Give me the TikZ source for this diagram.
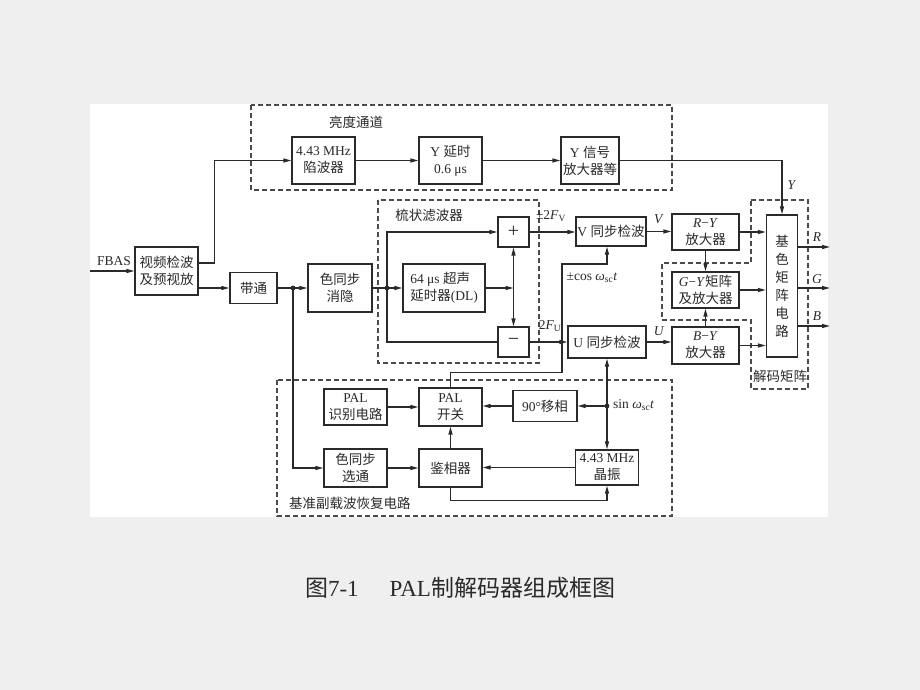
\documentclass[tikz,border=0pt]{standalone}
\usepackage{fontspec}
\setmainfont{Liberation Serif}
\newfontfamily\cjk{Noto Sans CJK SC}
\newcommand{\zh}[1]{{\cjk #1}}
\usetikzlibrary{arrows.meta}
\definecolor{pagegray}{HTML}{EFEFEF}
\definecolor{ink}{HTML}{2A2A2A}
\tikzset{
  blk/.style={draw=ink, line width=1.3pt, text=ink, align=center, inner sep=1pt,
    font=\fontsize{13.5}{17}\selectfont},
  tip/.tip={Triangle[length=8pt,width=4pt]},
  sig/.style={draw=ink, line width=1.3pt, -tip},
  wire/.style={draw=ink, line width=1.3pt},
  grp/.style={draw=ink!85, line width=1.3pt, dash pattern=on 5pt off 3pt},
  lbl/.style={text=ink, font=\fontsize{13.5}{15}\selectfont, inner sep=1pt},
  dot/.style={fill=ink},
}
\begin{document}
\begin{tikzpicture}[x=1pt,y=-1pt]
  \useasboundingbox (0,0) rectangle (920,690);
  \fill[pagegray] (0,0) rectangle (920,690);
  \fill[white] (90,104) rectangle (828,517);

  % dashed groups
  \draw[grp] (251,105) rectangle (672,190);
  \node[lbl] at (356,122) {\zh{亮度通道}};
  \draw[grp] (378,200) rectangle (539,363);
  \node[lbl] at (429,215) {\zh{梳状滤波器}};
  \draw[grp] (277,380) rectangle (672,516);
  \node[lbl, anchor=west] at (288,503) {\zh{基准副载波恢复电路}};
  \draw[grp] (751,200) -- (808,200) -- (808,389) -- (751,389) -- (751,320)
    -- (662,320) -- (662,263) -- (751,263) -- cycle;
  \node[lbl] at (780,376) {\zh{解码矩阵}};

  % blocks
  \node[blk, minimum width=63pt, minimum height=48pt] (video) at (166.5,271) {\zh{视频检波}\\\zh{及预视放}};
  \node[blk, minimum width=63pt, minimum height=47pt] (trap) at (323.5,160.5) {4.43 MHz\\\zh{陷波器}};
  \node[blk, minimum width=63pt, minimum height=47pt] (ydelay) at (450.5,160.5) {Y \zh{延时}\\0.6 μs};
  \node[blk, minimum width=58pt, minimum height=47pt] (yamp) at (590,160.5) {Y \zh{信号}\\\zh{放大器等}};
  \node[blk, minimum width=47pt, minimum height=31pt] (bandpass) at (253.5,288) {\zh{带通}};
  \node[blk, minimum width=64pt, minimum height=48pt] (blank) at (340,288) {\zh{色同步}\\\zh{消隐}};
  \node[blk, minimum width=82pt, minimum height=48pt, align=left] (dl) at (444,288) {64 μs \zh{超声}\\\zh{延时器}(DL)};
  \node[blk, minimum width=31pt, minimum height=30pt, font=\fontsize{20}{20}\selectfont] (plus) at (513.5,232) {+};
  \node[blk, minimum width=31pt, minimum height=30pt, font=\fontsize{20}{20}\selectfont] (minus) at (513.5,342) {−};
  \node[blk, minimum width=70pt, minimum height=29pt] (vdet) at (611,231.5) {V \zh{同步检波}};
  \node[blk, minimum width=78pt, minimum height=32pt] (udet) at (607,342) {U \zh{同步检波}};
  \node[blk, minimum width=67pt, minimum height=36pt] (ry) at (705.5,232) {\textit{R}−\textit{Y}\\\zh{放大器}};
  \node[blk, minimum width=67pt, minimum height=36pt] (gy) at (705.5,290) {\textit{G}−\textit{Y}\zh{矩阵}\\\zh{及放大器}};
  \node[blk, minimum width=67pt, minimum height=37pt] (by) at (705.5,345.5) {\textit{B}−\textit{Y}\\\zh{放大器}};
  \node[blk, minimum width=31pt, minimum height=142pt, font=\fontsize{13.5}{18}\selectfont] (matrix) at (782,286) {\zh{基}\\\zh{色}\\\zh{矩}\\\zh{阵}\\\zh{电}\\\zh{路}};
  \node[blk, minimum width=63pt, minimum height=36pt] (palid) at (355.5,407) {PAL\\\zh{识别电路}};
  \node[blk, minimum width=63pt, minimum height=38pt] (palsw) at (450.5,407) {PAL\\\zh{开关}};
  \node[blk, minimum width=64pt, minimum height=31pt] (shift) at (545,406) {90°\zh{移相}};
  \node[blk, minimum width=63pt, minimum height=38pt] (gate) at (355.5,468) {\zh{色同步}\\\zh{选通}};
  \node[blk, minimum width=63pt, minimum height=38pt] (phdet) at (450.5,468) {\zh{鉴相器}};
  \node[blk, minimum width=63pt, minimum height=35pt] (osc) at (607,467.5) {4.43 MHz\\\zh{晶振}};

  % junctions and free ends
  \coordinate (in) at (90,271);
  \coordinate (j1) at (293,288);
  \coordinate (j2) at (387,288);
  \coordinate (j3) at (udet.south |- shift.east);
  \coordinate (rout) at (830,247);
  \coordinate (gout) at (830,288);
  \coordinate (bout) at (830,326);

  % luminance path
  \draw[sig] (in) -- (video.west);
  \node[lbl] at (114,261) {FBAS};
  \draw[sig] ([yshift=8pt]video.east) -- ++(16,0) |- (trap.west);
  \draw[sig] (trap.east) -- (ydelay.west);
  \draw[sig] (ydelay.east) -- (yamp.west);
  \draw[sig] (yamp.east) -| (matrix.north);
  \node[lbl] at (792,185) {\textit{Y}};

  % chroma path
  \draw[sig] (video.east |- bandpass.west) -- (bandpass.west);
  \draw[wire] (bandpass.east) -- (j1);
  \draw[sig] (j1) -- (blank.west);
  \draw[sig] (j1) |- (gate.west);
  \draw[wire] (blank.east) -- (j2);
  \draw[sig] (j2) -- (dl.west);
  \draw[sig] (j2) |- (plus.west);
  \draw[wire] (j2) |- (minus.west);
  \draw[sig] (dl.east) -- (plus.south |- dl.east);
  \draw[sig, tip-tip] (plus.south) -- (minus.north);
  \fill[dot] (j1) circle (2.4pt);
  \fill[dot] (j2) circle (2.4pt);

  \draw[sig] (plus.east) -- (vdet.west |- plus.east);
  \node[lbl] at (551,216) {±2\textit{F}\textsubscript{V}};
  \draw[sig] (minus.east) -- (udet.west);
  \node[lbl] at (550,326) {2\textit{F}\textsubscript{U}};

  \draw[sig] (vdet.east) -- (ry.west |- vdet.east);
  \node[lbl] at (659,219) {\textit{V}};
  \draw[sig] (udet.east) -- (by.west |- udet.east);
  \node[lbl] at (659,331) {\textit{U}};
  \draw[sig] (ry.south) -- (gy.north);
  \draw[sig] (by.north) -- (gy.south);
  \draw[sig] (ry.east) -- (matrix.west |- ry.east);
  \draw[sig] (gy.east) -- (matrix.west |- gy.east);
  \draw[sig] (by.east) -- (matrix.west |- by.east);
  \draw[sig] (matrix.east |- rout) -- (rout);
  \draw[sig] (matrix.east |- gout) -- (gout);
  \draw[sig] (matrix.east |- bout) -- (bout);
  \node[lbl] at (817,237) {\textit{R}};
  \node[lbl] at (817,279) {\textit{G}};
  \node[lbl] at (817,316) {\textit{B}};

  % reference subcarrier
  \draw[sig] (palsw.north) -- ++(0,-15) -| (562,264) -| (vdet.south -| udet.south);
  \node[lbl] at (592,278) {±cos \textit{ω}\textsubscript{sc}\textit{t}};
  \draw[sig] (j3) -- (udet.south);
  \draw[sig] (j3) -- (osc.north);
  \draw[sig] (j3) -- (shift.east);
  \fill[dot] (j3) circle (2.4pt);
  \node[lbl, anchor=west] at (612,405) {sin \textit{ω}\textsubscript{sc}\textit{t}};
  \draw[sig] (shift.west) -- (palsw.east |- shift.west);
  \draw[sig] (palid.east) -- (palsw.west |- palid.east);
  \draw[sig] (gate.east) -- (phdet.west);
  \draw[sig] (phdet.north) -- (palsw.south);
  \draw[sig] (osc.west) -- (phdet.east |- osc.west);
  \draw[sig] (phdet.south) -- ++(0,13) -| (osc.south);

  % caption
  \node[text=ink, font=\fontsize{23}{26}\selectfont] (caption) at (460,588)
    {\zh{图}7-1\hspace{31pt}PAL\zh{制解码器组成框图}};
\end{tikzpicture}
\end{document}
